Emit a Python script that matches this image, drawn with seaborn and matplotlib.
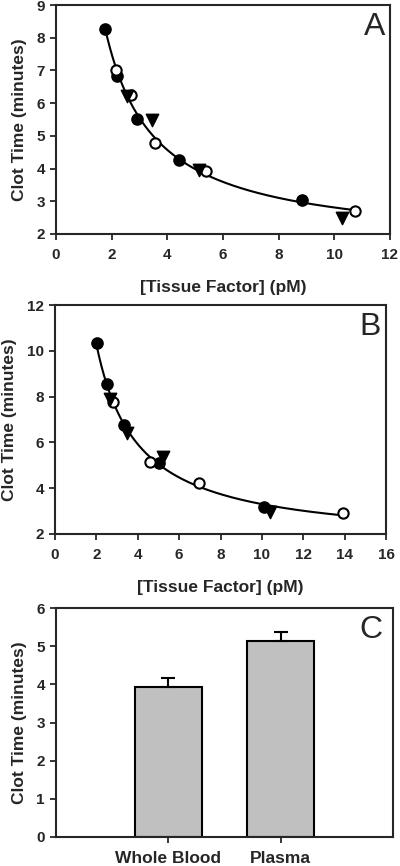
import numpy as np
import pandas as pd
import matplotlib
matplotlib.use('Agg')
import matplotlib.pyplot as plt
import seaborn as sns

sns.set_style('ticks')
plt.rcParams['font.family'] = ['Liberation Sans', 'DejaVu Sans']
plt.rcParams['font.weight'] = 'bold'

# panel A: [tissue factor] (pM) vs clot time (minutes)
a_filled_x = [1.76, 2.20, 2.92, 4.42, 8.85]
a_filled_y = [8.27, 6.84, 5.51, 4.27, 3.03]
a_open_x = [2.14, 2.69, 3.57, 5.38, 10.74]
a_open_y = [7.02, 6.26, 4.78, 3.94, 2.69]
a_tri_x = [2.54, 3.44, 5.15, 10.26]
a_tri_y = [6.22, 5.47, 3.97, 2.49]

# panel B
b_filled_x = [2.01, 2.52, 3.34, 5.05, 10.1]
b_filled_y = [10.35, 8.56, 6.78, 5.08, 3.17]
b_open_x = [2.81, 4.61, 6.96, 13.9]
b_open_y = [7.78, 5.16, 4.23, 2.91]
b_tri_x = [2.65, 3.46, 5.22, 10.4]
b_tri_y = [7.90, 6.42, 5.38, 2.97]

# panel C
groups = ['Whole Blood', 'Plasma']
clot_means = [3.94, 5.14]
clot_err = [0.23, 0.22]

ylab = 'Clot Time (minutes)'
xlab = '[Tissue Factor] (pM)'


def fit_curve(xs, ys):
    # hyperbolic fit  y = c + k/x
    xs = np.array(xs)
    ys = np.array(ys)
    k, c = np.polyfit(1.0 / xs, ys, 1)
    xx = np.linspace(xs.min(), xs.max(), 200)
    return pd.DataFrame({'x': xx, 'y': c + k / xx})


def style_axes(ax):
    for s in ax.spines.values():
        s.set_linewidth(1.5)
        s.set_visible(True)
    ax.tick_params(direction='out', length=4, width=1.3, labelsize=11,
                   top=False, right=False)
    ax.tick_params(axis='x', pad=6)
    ax.tick_params(axis='y', pad=4)
    for t in ax.get_xticklabels() + ax.get_yticklabels():
        t.set_fontweight('bold')


def scatter_panel(ax, fx, fy, ox, oy, tx, ty, letter, xlim, ylim, xticks, yticks):
    pts = pd.concat([
        pd.DataFrame({'x': fx, 'y': fy, 'g': 'filled'}),
        pd.DataFrame({'x': ox, 'y': oy, 'g': 'open'}),
        pd.DataFrame({'x': tx, 'y': ty, 'g': 'tri'}),
    ])
    curve = fit_curve(pts['x'], pts['y'])
    sns.lineplot(data=curve, x='x', y='y', ax=ax, color='black', lw=1.5, zorder=1)
    sns.scatterplot(x=fx, y=fy, ax=ax, s=65, color='black', marker='o',
                    edgecolor='black', linewidth=1, zorder=3)
    sns.scatterplot(x=ox, y=oy, ax=ax, s=55, color='white', marker='o',
                    edgecolor='black', linewidth=1.5, zorder=3)
    sns.scatterplot(x=tx, y=ty, ax=ax, s=80, color='black', marker='v',
                    edgecolor='black', linewidth=1, zorder=3)
    ax.set_xlim(*xlim)
    ax.set_ylim(*ylim)
    ax.set_xticks(xticks)
    ax.set_yticks(yticks)
    ax.set_xlabel(xlab, fontsize=12.5, fontweight='bold', labelpad=13)
    ax.set_ylabel(ylab, fontsize=12.5, fontweight='bold', labelpad=7)
    ax.text(0.985, 0.97, letter, transform=ax.transAxes, ha='right', va='top',
            fontsize=23, fontweight='normal')
    style_axes(ax)


fig = plt.figure(figsize=(4.0, 8.66), dpi=100)
axA = fig.add_axes([0.14, 0.7298, 0.835, 0.2644])
axB = fig.add_axes([0.1375, 0.3834, 0.8275, 0.2644])
axC = fig.add_axes([0.14, 0.0335, 0.8425, 0.2644])

scatter_panel(axA, a_filled_x, a_filled_y, a_open_x, a_open_y, a_tri_x, a_tri_y,
              'A', (0, 12), (2, 9), range(0, 13, 2), range(2, 10))
scatter_panel(axB, b_filled_x, b_filled_y, b_open_x, b_open_y, b_tri_x, b_tri_y,
              'B', (0, 16), (2, 12), range(0, 17, 2), range(2, 13, 2))

bars = pd.DataFrame({'group': groups, 'clot': clot_means})
sns.barplot(data=bars, x='group', y='clot', ax=axC, color='#c0c0c0',
            edgecolor='black', linewidth=1.5, width=0.6, errorbar=None, saturation=1)
axC.errorbar(x=range(len(groups)), y=clot_means, yerr=[[0, 0], clot_err],
             fmt='none', ecolor='black', elinewidth=1.5, capsize=5, capthick=1.5)
axC.set_xlim(-1, 2.0)
axC.set_ylim(0, 6)
axC.set_yticks(range(0, 7))
axC.set_xlabel('')
axC.set_ylabel(ylab, fontsize=12.5, fontweight='bold', labelpad=7)
axC.text(0.97, 0.97, 'C', transform=axC.transAxes, ha='right', va='top',
         fontsize=23, fontweight='normal')
style_axes(axC)
for t in axC.get_xticklabels():
    t.set_fontsize(12.5)

fig.savefig('out.png', dpi=100)
